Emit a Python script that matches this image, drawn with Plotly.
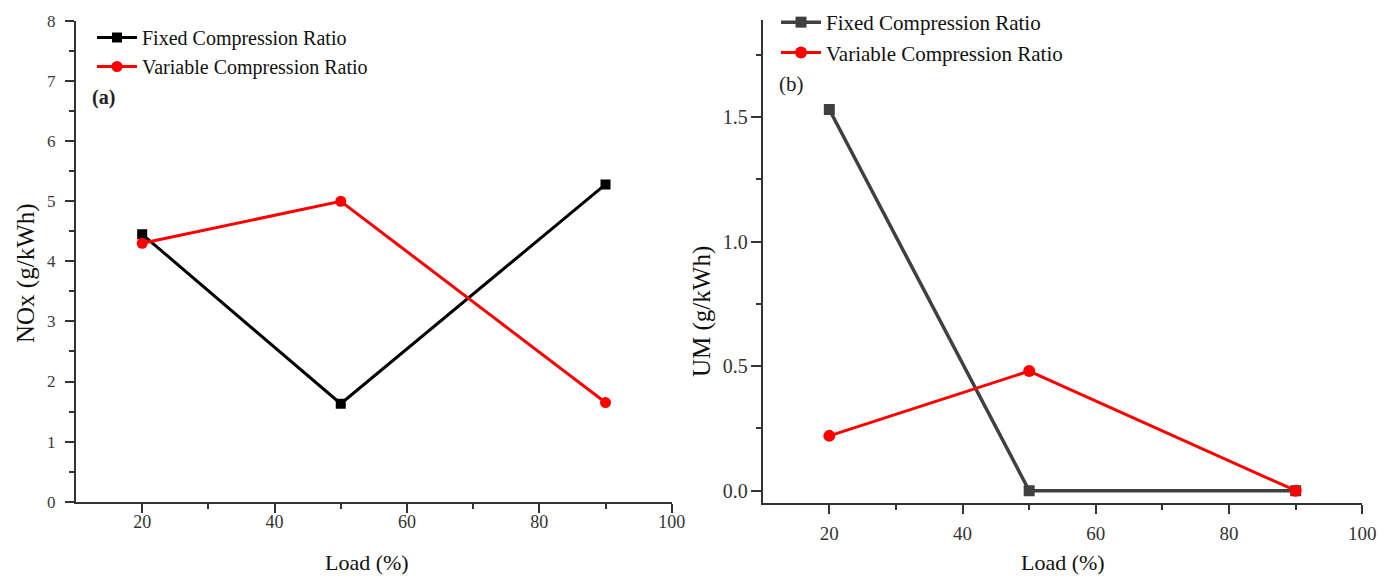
import plotly.graph_objects as go

W, H = 1391, 576

# ---- data ----
load = [20, 50, 90]
nox_fixed = [4.45, 1.63, 5.28]
nox_variable = [4.30, 5.00, 1.65]
um_fixed = [1.53, 0.0, 0.0]
um_variable = [0.22, 0.48, 0.0]

series_fixed = "Fixed Compression Ratio"
series_variable = "Variable Compression Ratio"

FONT = "Liberation Serif"
RED = "#ff0000"

def px(x):
    return x / W

def py(y):
    return 1 - y / H

fig = go.Figure()

fig.add_trace(go.Scatter(x=load, y=nox_fixed, name=series_fixed, mode="lines+markers",
                         line=dict(color="#000000", width=3),
                         marker=dict(symbol="square", size=10, color="#000000"),
                         xaxis="x", yaxis="y", legend="legend"))
fig.add_trace(go.Scatter(x=load, y=nox_variable, name=series_variable, mode="lines+markers",
                         line=dict(color=RED, width=3),
                         marker=dict(symbol="circle", size=11, color=RED),
                         xaxis="x", yaxis="y", legend="legend"))
fig.add_trace(go.Scatter(x=load, y=um_fixed, name=series_fixed, mode="lines+markers",
                         line=dict(color="#404040", width=3.5),
                         marker=dict(symbol="square", size=11, color="#404040"),
                         xaxis="x2", yaxis="y2", legend="legend2"))
fig.add_trace(go.Scatter(x=load, y=um_variable, name=series_variable, mode="lines+markers",
                         line=dict(color=RED, width=3),
                         marker=dict(symbol="circle", size=12, color=RED),
                         xaxis="x2", yaxis="y2", legend="legend2"))

def xax(domain, anchor, fsize, standoff):
    return dict(domain=domain, anchor=anchor, range=[10, 100], tickmode="array",
                tickvals=[20, 40, 60, 80, 100], ticks="outside", ticklen=9, tickwidth=1.5,
                tickcolor="#333", showline=True, linecolor="#333", linewidth=2,
                showgrid=False, zeroline=False,
                tickfont=dict(family=FONT, size=fsize, color="#333333"),
                ticklabelstandoff=standoff, automargin=False,
                minor=dict(tickvals=[30, 50, 70, 90], ticks="outside", ticklen=5,
                           tickwidth=1.5, tickcolor="#333", showgrid=False))

fig.update_layout(
    width=W, height=H,
    margin=dict(l=0, r=0, t=0, b=0),
    paper_bgcolor="white", plot_bgcolor="white",
    xaxis=xax([px(76), px(671.7)], "y", 18, -6),
    yaxis=dict(domain=[py(501.7), py(21)], anchor="x", range=[0, 8],
               tickmode="array", tickvals=[0, 1, 2, 3, 4, 5, 6, 7, 8],
               ticks="outside", ticklen=9, tickwidth=1.5, tickcolor="#333",
               showline=True, linecolor="#333", linewidth=2, showgrid=False,
               zeroline=False, tickfont=dict(family=FONT, size=17, color="#3a3a3a"),
               ticklabelstandoff=6, automargin=False,
               minor=dict(tickvals=[0.5, 1.5, 2.5, 3.5, 4.5, 5.5, 6.5, 7.5], ticks="outside",
                          ticklen=5, tickwidth=1.5, tickcolor="#333", showgrid=False)),
    xaxis2=xax([px(762.7), px(1362.3)], "y2", 19, 3),
    yaxis2=dict(domain=[py(503.3), py(20)], anchor="x2", range=[-0.0506, 1.889],
                tickmode="array", tickvals=[0, 0.5, 1.0, 1.5],
                ticktext=["0.0", "0.5", "1.0", "1.5"],
                ticks="outside", ticklen=10, tickwidth=1.5, tickcolor="#333",
                showline=True, linecolor="#333", linewidth=2, showgrid=False,
                zeroline=False, tickfont=dict(family=FONT, size=20, color="#333333"),
                ticklabelstandoff=-1, automargin=False,
                minor=dict(tickvals=[0.25, 0.75, 1.25, 1.75], ticks="outside",
                           ticklen=5, tickwidth=1.5, tickcolor="#333", showgrid=False)),
    legend=dict(x=px(92), y=py(18), xanchor="left", yanchor="top",
                bgcolor="rgba(0,0,0,0)", font=dict(family=FONT, size=20, color="#111"),
                tracegroupgap=0, itemwidth=40),
    legend2=dict(x=px(776), y=py(2), xanchor="left", yanchor="top",
                 bgcolor="rgba(0,0,0,0)", font=dict(family=FONT, size=21, color="#111"),
                 tracegroupgap=0, itemwidth=40),
    showlegend=True,
)

annotations = [
    dict(x=px(103), y=py(97), text="<b>(a)</b>", font=dict(family=FONT, size=20, color="#222")),
    dict(x=px(791), y=py(84), text="(b)", font=dict(family=FONT, size=21, color="#222")),
    dict(x=px(367), y=py(562), text="Load (%)", font=dict(family=FONT, size=22, color="#111")),
    dict(x=px(1063), y=py(562), text="Load (%)", font=dict(family=FONT, size=22, color="#111")),
    dict(x=px(26), y=py(273), text="NOx (g/kWh)", textangle=-90,
         font=dict(family=FONT, size=25, color="#111")),
    dict(x=px(702), y=py(311), text="UM (g/kWh)", textangle=-90,
         font=dict(family=FONT, size=25, color="#111")),
]
for a in annotations:
    a.update(xref="paper", yref="paper", showarrow=False, xanchor="center", yanchor="middle")
fig.update_layout(annotations=annotations)

fig.write_html("out.html", config={"displayModeBar": False},
               post_script="document.body.style.margin='0';document.body.style.overflow='hidden';")
